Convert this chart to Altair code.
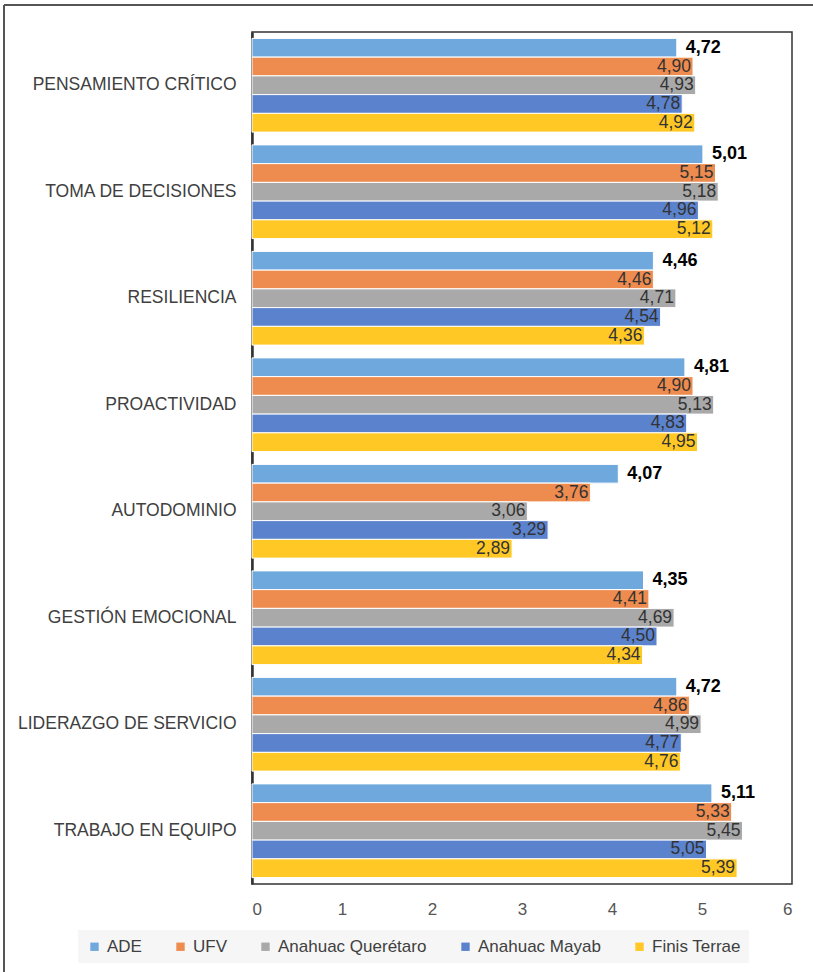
import altair as alt
import pandas as pd

# Competencias evaluadas (de arriba hacia abajo)
categorias = [
    "PENSAMIENTO CRÍTICO",
    "TOMA DE DECISIONES",
    "RESILIENCIA",
    "PROACTIVIDAD",
    "AUTODOMINIO",
    "GESTIÓN EMOCIONAL",
    "LIDERAZGO DE SERVICIO",
    "TRABAJO EN EQUIPO",
]

series = ["ADE", "UFV", "Anahuac Querétaro", "Anahuac Mayab", "Finis Terrae"]
colores = ["#6FA8DC", "#EE8B4E", "#A9A9A9", "#5B82CD", "#FFC825"]

ade = [4.72, 5.01, 4.46, 4.81, 4.07, 4.35, 4.72, 5.11]
ufv = [4.90, 5.15, 4.46, 4.90, 3.76, 4.41, 4.86, 5.33]
anahuac_queretaro = [4.93, 5.18, 4.71, 5.13, 3.06, 4.69, 4.99, 5.45]
anahuac_mayab = [4.78, 4.96, 4.54, 4.83, 3.29, 4.50, 4.77, 5.05]
finis_terrae = [4.92, 5.12, 4.36, 4.95, 2.89, 4.34, 4.76, 5.39]

valores = [ade, ufv, anahuac_queretaro, anahuac_mayab, finis_terrae]

filas = []
for serie, vals in zip(series, valores):
    for cat, v in zip(categorias, vals):
        filas.append({
            "competencia": cat,
            "serie": serie,
            "valor": v,
            "etiqueta": f"{v:.2f}".replace(".", ","),
        })
df = pd.DataFrame(filas)

FONT = "Liberation Sans"

y_enc = alt.Y(
    "competencia:N",
    sort=categorias,
    title=None,
    scale=alt.Scale(paddingInner=0.12, paddingOuter=0.06),
    axis=alt.Axis(
        labelFontSize=17.5,
        labelColor="#404040",
        labelPadding=16,
        labelLimit=400,
        ticks=False,
        domain=True,
        domainColor="#333333",
        domainWidth=2.5,
        labelFont=FONT,
    ),
)
yoff = alt.YOffset("serie:N", sort=series, scale=alt.Scale(paddingInner=0, paddingOuter=0))
x_enc = alt.X(
    "valor:Q",
    title=None,
    scale=alt.Scale(domain=[0, 6], nice=False),
    axis=alt.Axis(
        values=[0, 1, 2, 3, 4, 5, 6],
        format="d",
        grid=False,
        ticks=False,
        domain=False,
        labelFontSize=17,
        labelColor="#555555",
        labelPadding=17,
        labelFont=FONT,
    ),
)

barras = alt.Chart(df).mark_bar(stroke="white", strokeWidth=1).encode(
    y=y_enc,
    yOffset=yoff,
    x=x_enc,
    color=alt.Color(
        "serie:N",
        sort=series,
        scale=alt.Scale(domain=series, range=colores),
        legend=alt.Legend(
            title=None,
            orient="none",
            direction="horizontal",
            legendX=-174,
            legendY=898,
            symbolType="square",
            symbolSize=70,
            symbolStrokeWidth=0,
            labelFontSize=17,
            labelColor="#404040",
            labelFont=FONT,
            labelOffset=4,
            columnPadding=30,
            fillColor="#F6F6F6",
            padding=8,
        ),
    ),
)

texto_ade = alt.Chart(df[df["serie"] == "ADE"]).mark_text(
    align="left", baseline="middle", dx=9, fontSize=18, fontWeight="bold",
    color="#000000", font=FONT,
).encode(y=y_enc, yOffset=yoff, x=x_enc, text="etiqueta:N")

texto_resto = alt.Chart(df[df["serie"] != "ADE"]).mark_text(
    align="right", baseline="middle", dx=-2, fontSize=17.5,
    color="#333333", font=FONT,
).encode(y=y_enc, yOffset=yoff, x=x_enc, text="etiqueta:N")

# Marco exterior del gráfico (bordes izquierdo y superior)
marco_izq = alt.Chart(pd.DataFrame({"k": [0]})).mark_rule(
    color="#555555", strokeWidth=2, clip=False
).encode(x=alt.value(-248), y=alt.value(-27), y2=alt.value(960))
marco_sup = alt.Chart(pd.DataFrame({"k": [0]})).mark_rule(
    color="#555555", strokeWidth=2, clip=False
).encode(x=alt.value(-248), x2=alt.value(600), y=alt.value(-27))

chart = alt.layer(barras, texto_ade, texto_resto, marco_izq, marco_sup).properties(
    width=540,
    height=852,
    padding={"left": 252, "top": 32, "right": 21, "bottom": 88},
    autosize=alt.AutoSizeParams(type="none"),
    background="white",
).configure_view(
    stroke="#333333", strokeWidth=1.5
)

chart.save("out.html", embed_options={"renderer": "svg", "actions": False})
